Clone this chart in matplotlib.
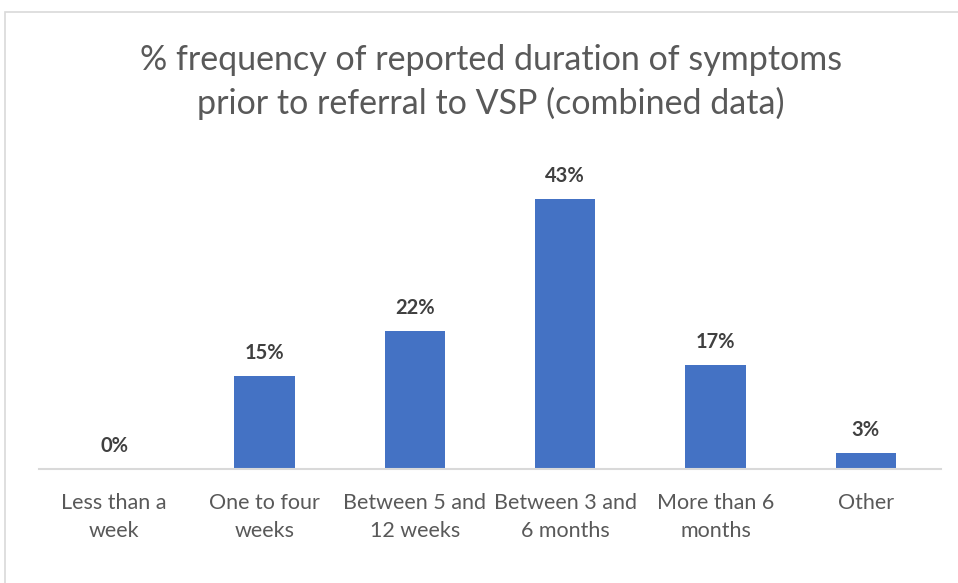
import matplotlib.pyplot as plt
from matplotlib.patches import Rectangle

categories = ["Less than a\nweek", "One to four\nweeks", "Between 5 and\n12 weeks",
              "Between 3 and\n6 months", "More than 6\nmonths", "Other"]
values = [0, 14.8, 22.0, 43.0, 16.6, 2.6]
title = "% frequency of reported duration of symptoms\nprior to referral to VSP (combined data)"

plt.rcParams['font.family'] = ['Lato', 'DejaVu Sans']

W, H = 958, 583
fig = plt.figure(figsize=(W / 100, H / 100), dpi=100)
ax = fig.add_axes([39 / W, 1 - 469 / H, (941 - 39) / W, (469 - 155) / H])

x = range(len(categories))
bars = ax.bar(x, values, width=0.4, color="#4472C4", zorder=2)
for b, v in zip(bars, values):
    ax.text(b.get_x() + b.get_width() / 2, v + 2.0, f"{v:.0f}%", ha="center", va="bottom",
            fontsize=14.5, fontweight="bold", color="#404040")

ax.set_xlim(-0.5, len(categories) - 0.5)
ax.set_ylim(0, 50)
ax.set_xticks(list(x))
ax.set_xticklabels(categories, fontsize=15.5, color="#595959", linespacing=1.5)
ax.tick_params(axis="x", length=0, pad=17)
ax.set_yticks([])
for s in ["top", "right", "left"]:
    ax.spines[s].set_visible(False)
ax.spines["bottom"].set_color("#D9D9D9")
ax.spines["bottom"].set_linewidth(1.5)

fig.text(491 / W, 1 - 82 / H, title, ha="center", va="center", fontsize=24.5,
         color="#595959", linespacing=1.38)

fig.patches.append(Rectangle((5 / W, 1 - 595 / H), 970 / W, (595 - 12) / H,
                             transform=fig.transFigure, fill=False,
                             edgecolor="#D9D9D9", linewidth=1.2))

fig.savefig("out.png", dpi=100)
